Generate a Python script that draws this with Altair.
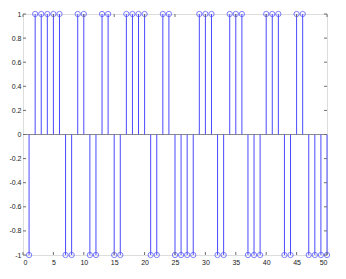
import altair as alt
import pandas as pd

# sample index and binary values
n = list(range(1, 51))
values = [-1, 1, 1, 1, 1, 1, -1, -1, 1, 1,
          -1, -1, 1, 1, -1, -1, 1, 1, 1, 1,
          -1, -1, 1, 1, -1, -1, -1, -1, 1, 1,
          1, -1, -1, 1, 1, 1, -1, -1, -1, 1,
          1, 1, -1, -1, 1, 1, -1, -1, -1, -1]

x_ticks = [0, 5, 10, 15, 20, 25, 30, 35, 40, 45, 50]
y_ticks = [-1, -0.8, -0.6, -0.4, -0.2, 0, 0.2, 0.4, 0.6, 0.8, 1]

W, H = 304, 241
BLUE = "#4a4aff"
AX = "#6e6e6e"

df = pd.DataFrame({"n": n, "v": values})
xt = pd.DataFrame({"n": x_ticks})
yt = pd.DataFrame({"v": y_ticks})

xscale = alt.Scale(domain=[0, 50], nice=False, zero=False)
yscale = alt.Scale(domain=[-1, 1], nice=False, zero=False)

lbl = "datum.value < 0 ? '-' + format(-datum.value, '~g') : format(datum.value, '~g')"

xaxis = alt.Axis(values=x_ticks, format="d", tickSize=0, domain=False, grid=False,
                 labelPadding=3, labelFontSize=7, labelFont="Liberation Sans",
                 labelColor="#222", title=None)
yaxis = alt.Axis(values=y_ticks, labelExpr=lbl, tickSize=0, domain=False, grid=False,
                 labelPadding=2, labelFontSize=7, labelFont="Liberation Sans",
                 labelColor="#222", title=None)

X = alt.X("n:Q", scale=xscale, axis=xaxis)
Y = alt.Y("v:Q", scale=yscale, axis=yaxis)

base = alt.Chart(df)

baseline = base.mark_rule(color="#8c8c8c", strokeWidth=1).encode(
    y=alt.Y("z:Q", scale=yscale, axis=yaxis)
).transform_calculate(z="0").transform_filter("datum.n == 1")

stems = base.mark_rule(color=BLUE, strokeWidth=1).encode(x=X, y=Y, y2=alt.datum(0))
dots = base.mark_point(shape="circle", filled=False, size=28, strokeWidth=1, color=BLUE).encode(x=X, y=Y)

xt_bottom = alt.Chart(xt).mark_rule(color=AX).encode(x=X, y=alt.value(H), y2=alt.value(H - 3))
xt_top = alt.Chart(xt).mark_rule(color=AX).encode(x=X, y=alt.value(0), y2=alt.value(3))
yt_left = alt.Chart(yt).mark_rule(color=AX).encode(y=Y, x=alt.value(0), x2=alt.value(3))
yt_right = alt.Chart(yt).mark_rule(color=AX).encode(y=Y, x=alt.value(W), x2=alt.value(W - 3))

chart = alt.layer(baseline, stems, dots, xt_bottom, xt_top, yt_left, yt_right).properties(
    width=W, height=H,
    autosize=alt.AutoSizeParams(type="none"),
    padding={"left": 15, "top": 6, "right": 11, "bottom": 16},
).configure_view(stroke=AX, strokeWidth=1).configure(background="white")

chart.save("out.html", embed_options={"renderer": "svg", "actions": False})
